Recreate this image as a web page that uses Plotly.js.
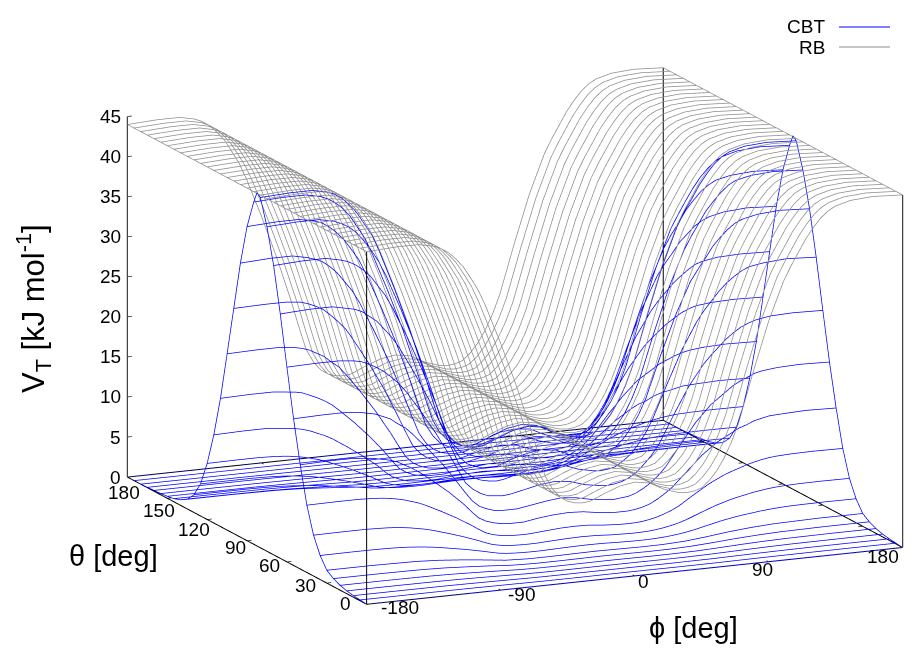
<!DOCTYPE html>
<html><head><meta charset="utf-8"><script src="https://cdn.plot.ly/plotly-3.0.1.min.js"></script>
<style>html,body{margin:0;padding:0;background:#fff}#c{width:915px;height:655px}</style></head>
<body><div id="c"></div><script>
const phi=[-180,-160,-145,-135,-130,-125,-120,-115,-110,-105,-100,-90,-80,-70,-65,-60,-55,-50,-45,-40,-35,-30,-20,-10,0,10,20,30,35,40,45,50,55,60,65,70,80,90,100,105,110,115,120,125,130,135,145,160,180];
const phiCoarse=[-180,-150,-120,-105,-90,-75,-60,-45,-30,-15,0,15,30,45,60,75,90,105,120,150,180];
const theta=[0,5,10,15,20,25,30,35,40,45,50,55,60,65,70,75,80,85,90,95,100,105,110,115,120,125,130,135,140,145,150,155,160,165,170,175,180];
const arcTheta=[0,5,10,15,20,25,30,35,40,45,50,55,60,65,70,75,80,82.5,85,90,95,100,105,110,115,120,125,130,135,140,145,150,155,160,165,170,175,180];
const arcZ=[0,.1,.2,.35,.6,1,1.6,3,5.1,8.4,13,18.3,24.3,30.5,36.1,40.5,43.7,44.1,42.7,39.2,34.2,28.1,22,16,11,7,4,2.2,1.2,.7,.4,.25,.15,.1,.05,0,0,0];
const rb=[44,44.2,44.2,43.8,43.4,42.8,41.9,40.8,39.3,37.7,35.6,30.8,25.6,19.8,16.6,13.6,11.9,10.8,10.2,9.9,9.8,9.9,10.7,11.4,11.7,11.4,10.4,9.8,9.7,9.8,10.1,10.9,12,13.5,15.4,17.8,24.1,30,34.8,36.6,38.2,39.8,41.1,42.2,43,43.5,44,44.2,44];
const cbt0=[0,0,0,0,0,0,0,0,0,0,0,0,0,0,0,0,0,0,0,0,0];
const cbt5=[.1,.1,.1,.09,.07,.05,.03,.02,.02,.03,.03,.03,.02,.02,.03,.05,.07,.08,.09,.1,.1];
const cbt10=[.2,.2,.19,.17,.14,.1,.06,.05,.05,.05,.05,.05,.04,.05,.06,.1,.14,.17,.19,.2,.2];
const cbt15=[.35,.35,.33,.3,.25,.18,.11,.08,.08,.09,.09,.09,.08,.08,.11,.17,.24,.29,.33,.35,.35];
const cbt20=[.6,.6,.57,.51,.42,.31,.19,.14,.14,.15,.16,.15,.13,.14,.18,.29,.41,.5,.56,.6,.6];
const cbt25=[1,1,.95,.86,.7,.52,.31,.23,.23,.25,.27,.25,.22,.23,.31,.48,.68,.83,.93,1,1];
const cbt30=[1.6,1.6,1.52,1.37,1.12,.82,.49,.37,.36,.4,.43,.4,.36,.37,.49,.76,1.09,1.33,1.49,1.6,1.6];
const cbt35=[3,3.02,3.02,2.99,2.96,2.92,2.86,2.78,2.68,2.57,2.43,2.1,1.75,1.35,1.13,.93,.81,.74,.7,.68,.67,.68,.73,.78,.8,.78,.71,.67,.66,.67,.69,.74,.82,.92,1.05,1.22,1.64,2.05,2.37,2.5,2.6,2.72,2.8,2.88,2.93,2.97,3,3.02,3];
const cbt40=[5.1,5.13,5.13,5.07,5.03,4.96,4.86,4.73,4.55,4.37,4.13,3.57,2.97,2.3,1.92,1.58,1.38,1.25,1.18,1.15,1.14,1.15,1.24,1.32,1.36,1.32,1.2,1.14,1.12,1.14,1.17,1.26,1.39,1.57,1.79,2.07,2.79,3.48,4.03,4.24,4.43,4.62,4.76,4.89,4.98,5.04,5.1,5.13,5.1];
const cbt45=[8.4,8.44,8.44,8.36,8.28,8.17,8,7.79,7.5,7.2,6.8,5.88,4.89,3.78,3.17,2.6,2.27,2.06,1.95,1.89,1.87,1.89,2.04,2.18,2.23,2.18,1.98,1.87,1.85,1.87,1.93,2.08,2.29,2.58,2.94,3.4,4.6,5.73,6.64,6.99,7.29,7.6,7.85,8.06,8.21,8.31,8.4,8.44,8.4];
const cbt50=[13,13.1,13.1,12.9,12.8,12.6,12.4,12.1,11.6,11.1,10.5,9.1,7.6,5.9,4.9,4,3.5,3.2,3,2.9,2.9,2.9,3.2,3.4,3.5,3.4,3.1,2.9,2.9,2.9,3,3.2,3.5,4,4.6,5.3,7.1,8.9,10.3,10.8,11.3,11.8,12.1,12.5,12.7,12.9,13,13.1,13];
const cbt55=[18.3,18.4,18.4,18.2,18,17.8,17.4,17,16.3,15.7,14.8,12.8,10.7,8.2,6.9,5.7,4.9,4.5,4.2,4.1,4.1,4.1,4.4,4.7,4.9,4.7,4.3,4.1,4,4.1,4.2,4.5,5,5.6,6.4,7.4,10,12.5,14.5,15.2,15.9,16.6,17.1,17.5,17.9,18.1,18.3,18.4,18.3];
const cbt60=[24.3,24.4,24.4,24.2,24,23.6,23.1,22.5,21.7,20.8,19.7,17,14.1,10.9,9.2,7.5,6.6,6,5.6,5.5,5.4,5.5,5.9,6.3,6.5,6.3,5.7,5.4,5.3,5.4,5.6,6,6.6,7.5,8.5,9.8,13.3,16.6,19.2,20.2,21.1,22,22.7,23.3,23.7,24,24.3,24.4,24.3];
const cbt65=[30.5,30.7,30.7,30.3,30.1,29.7,29,28.3,27.2,26.1,24.7,21.4,17.8,13.7,11.5,9.4,8.2,7.5,7.1,6.9,6.8,6.9,7.4,7.9,8.1,7.9,7.2,6.8,6.7,6.8,7,7.6,8.3,9.4,10.7,12.4,16.7,20.8,24.1,25.4,26.5,27.6,28.5,29.2,29.8,30.2,30.5,30.7,30.5];
const cbt70=[36.1,36.3,36.3,35.9,35.6,35.1,34.4,33.5,32.2,30.9,29.2,25.3,21,16.2,13.6,11.2,9.7,8.8,8.4,8.1,8.1,8.1,8.8,9.3,9.6,9.3,8.5,8.1,7.9,8.1,8.3,9,9.9,11.1,12.6,14.6,19.8,24.6,28.6,30,31.3,32.7,33.7,34.6,35.3,35.7,36.1,36.3,36.1];
const cbt75=[40.5,40.7,40.7,40.3,39.9,39.4,38.6,37.5,36.2,34.7,32.8,28.4,23.6,18.2,15.3,12.5,10.9,9.9,9.4,9.1,9,9.1,9.8,10.5,10.8,10.5,9.6,9,8.9,9,9.3,10,11.1,12.4,14.2,16.4,22.2,27.6,32,33.7,35.2,36.7,37.8,38.8,39.6,40.1,40.5,40.7,40.5];
const cbt80=[43.7,43.9,43.9,43.5,43.1,42.5,41.6,40.5,39,37.5,35.4,30.6,25.4,19.7,16.5,13.5,11.8,10.7,10.1,9.8,9.7,9.8,10.6,11.3,11.6,11.3,10.3,9.7,9.6,9.7,10.1,10.8,11.9,13.4,15.3,17.7,23.9,29.8,34.6,36.4,37.9,39.5,40.8,41.9,42.7,43.2,43.7,43.9,43.7];
const cbt85=[42.7,42.9,42.9,42.5,42.1,41.5,40.7,39.6,38.1,36.6,34.5,29.9,24.9,19.2,16.1,13.2,11.5,10.5,9.9,9.6,9.5,9.6,10.4,11.1,11.4,11.1,10.1,9.5,9.4,9.5,9.8,10.6,11.7,13.1,14.9,17.3,23.4,29.1,33.8,35.5,37.1,38.6,39.9,40.9,41.7,42.2,42.7,42.9,42.7];
const cbt90=[39.2,39.4,39.4,39,38.7,38.1,37.3,36.3,35,33.6,31.7,27.4,22.8,17.6,14.8,12.1,10.6,9.6,9.1,8.8,8.7,8.8,9.5,10.2,10.4,10.2,9.3,8.7,8.6,8.7,9,9.7,10.7,12,13.7,15.9,21.5,26.7,31,32.6,34,35.5,36.6,37.6,38.3,38.8,39.2,39.4,39.2];
const cbt95=[34.2,34.4,34.4,34,33.7,33.3,32.6,31.7,30.5,29.3,27.7,23.9,19.9,15.4,12.9,10.6,9.2,8.4,7.9,7.7,7.6,7.7,8.3,8.9,9.1,8.9,8.1,7.6,7.5,7.6,7.9,8.5,9.3,10.5,12,13.9,18.7,23.3,27.1,28.5,29.7,31,31.9,32.8,33.4,33.8,34.2,34.4,34.2];
const cbt100=[28.1,28.2,28.2,28,27.7,27.3,26.8,26,25.1,24.1,22.7,19.7,16.4,12.6,10.6,8.7,7.6,6.9,6.5,6.3,6.3,6.3,6.8,7.3,7.5,7.3,6.6,6.3,6.2,6.3,6.5,7,7.7,8.6,9.8,11.4,15.4,19.2,22.2,23.4,24.4,25.4,26.2,26.9,27.5,27.8,28.1,28.2,28.1];
const cbt105=[22,22.1,22.1,21.9,21.7,21.4,20.9,20.4,19.6,18.9,17.8,15.4,12.8,9.9,8.3,6.8,5.9,5.4,5.1,5,4.9,5,5.3,5.7,5.9,5.7,5.2,4.9,4.8,4.9,5.1,5.5,6,6.8,7.7,8.9,12.1,15,17.4,18.3,19.1,19.9,20.5,21.1,21.5,21.8,22,22.1,22];
const cbt110=[16,16.1,16.1,15.9,15.8,15.6,15.2,14.8,14.3,13.7,12.9,11.2,9.3,7.2,6,4.9,4.3,3.9,3.7,3.6,3.6,3.6,3.9,4.1,4.3,4.1,3.8,3.6,3.5,3.6,3.7,4,4.4,4.9,5.6,6.5,8.8,10.9,12.7,13.3,13.9,14.5,14.9,15.3,15.6,15.8,16,16.1,16];
const cbt115=[11,11.1,11.1,10.9,10.8,10.7,10.5,10.2,9.8,9.4,8.9,7.7,6.4,5,4.1,3.4,3,2.7,2.6,2.5,2.5,2.5,2.7,2.8,2.9,2.8,2.6,2.5,2.4,2.5,2.5,2.7,3,3.4,3.9,4.5,6,7.5,8.7,9.2,9.5,10,10.3,10.5,10.7,10.9,11,11.1,11];
const cbt120=[7,7.04,7.04,6.97,6.9,6.81,6.66,6.49,6.25,6,5.66,4.9,4.07,3.15,2.64,2.16,1.89,1.72,1.62,1.58,1.56,1.58,1.7,1.81,1.86,1.81,1.65,1.56,1.54,1.56,1.61,1.74,1.91,2.15,2.45,2.84,3.84,4.77,5.54,5.82,6.08,6.34,6.54,6.71,6.84,6.92,7,7.04,7];
const cbt125=[4,4.02,4.02,3.98,3.94,3.89,3.81,3.71,3.57,3.43,3.24,2.8,2.33,1.8,1.51,1.24,1.08,.98,.93,.9,.89,.9,.97,1.04,1.06,1.04,.94,.89,.88,.89,.92,.99,1.09,1.23,1.4,1.62,2.19,2.73,3.16,3.33,3.47,3.62,3.74,3.84,3.91,3.96,4,4.02,4];
const cbt130=[2.2,2.21,2.21,2.19,2.17,2.14,2.09,2.04,1.96,1.89,1.78,1.54,1.28,.99,.83,.68,.59,.54,.51,.5,.49,.5,.53,.57,.59,.57,.52,.49,.48,.49,.51,.55,.6,.68,.77,.89,1.21,1.5,1.74,1.83,1.91,1.99,2.05,2.11,2.15,2.18,2.2,2.21,2.2];
const cbt135=[1.2,1.2,1.14,1.03,.84,.62,.37,.28,.27,.3,.32,.3,.27,.28,.37,.57,.82,1,1.12,1.2,1.2];
const cbt140=[.7,.7,.67,.6,.49,.36,.22,.16,.16,.18,.19,.18,.16,.16,.21,.33,.48,.58,.65,.7,.7];
const cbt145=[.4,.4,.38,.34,.28,.21,.12,.09,.09,.1,.11,.1,.09,.09,.12,.19,.27,.33,.37,.4,.4];
const cbt150=[.25,.25,.24,.21,.18,.13,.08,.06,.06,.06,.07,.06,.06,.06,.08,.12,.17,.21,.23,.25,.25];
const cbt155=[.15,.15,.14,.13,.11,.08,.05,.03,.03,.04,.04,.04,.03,.03,.05,.07,.1,.12,.14,.15,.15];
const cbt160=[.1,.1,.1,.09,.07,.05,.03,.02,.02,.03,.03,.03,.02,.02,.03,.05,.07,.08,.09,.1,.1];
const cbt165=[.05,.05,.05,.04,.04,.03,.02,.01,.01,.01,.01,.01,.01,.01,.02,.02,.03,.04,.05,.05,.05];
const cbt170=[0,0,0,0,0,0,0,0,0,0,0,0,0,0,0,0,0,0,0,0,0];
const cbt175=[0,0,0,0,0,0,0,0,0,0,0,0,0,0,0,0,0,0,0,0,0];
const cbt180=[0,0,0,0,0,0,0,0,0,0,0,0,0,0,0,0,0,0,0,0,0];
const cbtRows=[cbt0,cbt5,cbt10,cbt15,cbt20,cbt25,cbt30,cbt35,cbt40,cbt45,cbt50,cbt55,cbt60,cbt65,cbt70,cbt75,cbt80,cbt85,cbt90,cbt95,cbt100,cbt105,cbt110,cbt115,cbt120,cbt125,cbt130,cbt135,cbt140,cbt145,cbt150,cbt155,cbt160,cbt165,cbt170,cbt175,cbt180];
const zTicks=[0,5,10,15,20,25,30,35,40,45];
const thetaTicks=[0,30,60,90,120,150,180];
const phiTicks=[-180,-90,0,90,180];
const thetaShift=[[-21,-1],[-21,2],[-17,4],[-12,7],[-13,10],[-8,12],[-3,15]];
const phiShift=[[33,3],[21,4],[9,6],[-6,8],[-20,9]];
const L=(x,y,z,color,width)=>({type:'scatter3d',mode:'lines',x,y,z,line:{color,width},hoverinfo:'skip',showlegend:false,connectgaps:false});
const GR='#8c8c8c',BL='#0000ff';
const traces=[];
theta.forEach(t=>traces.push(L(phi,phi.map(_=>t),rb,GR,1.5)));
theta.forEach((t,i)=>{const r=cbtRows[i],p=r.length===phi.length?phi:phiCoarse;traces.push(L(p,p.map(_=>t),r,BL,1.5));});
[-180,180].forEach(p=>traces.push(L(arcTheta.map(_=>p),arcTheta,arcZ,BL,1.5)));
[-180,180].forEach(p=>traces.push(L([p,p],[0,180],[rb[0],rb[0]],GR,1.5)));
traces.push(L([-180,180,180,-180,-180],[0,0,180,180,0],[0,0,0,0,0],'#000',2));
traces.push(L([-180,-180,null,180,180],[0,0,null,180,180],[0,44,null,0,44],'#000',2));
traces.push(L([-180,-180,null,180,180],[180,180,null,0,0],[0,45,null,0,44],'#444',2.5));
const tx=[],ty=[],tz=[];
zTicks.forEach(v=>{tx.push(-180,-177,null);ty.push(180,180,null);tz.push(v,v,null);});
thetaTicks.forEach(t=>{tx.push(-180,-177,null,180,177,null);ty.push(t,t,null,t,t,null);tz.push(0,0,null,0,0,null);});
phiTicks.forEach(p=>{tx.push(p,p,null,p,p,null);ty.push(0,1.5,null,180,178.5,null);tz.push(0,0,null,0,0,null);});
traces.push(L(tx,ty,tz,'#222',1.5));
const F='"Liberation Sans",Arial,sans-serif';
const s={size:19,color:'#000',family:F};
const ann=[];
zTicks.forEach(v=>ann.push({x:-180,y:180,z:v,text:String(v),showarrow:false,xanchor:'right',yanchor:'middle',xshift:-4,font:s}));
thetaTicks.forEach((t,i)=>ann.push({x:-180,y:t,z:0,text:String(t),showarrow:false,xanchor:'center',yanchor:'middle',xshift:thetaShift[i][0],yshift:-thetaShift[i][1],font:s}));
phiTicks.forEach((p,i)=>ann.push({x:p,y:0,z:0,text:String(p),showarrow:false,xanchor:'center',yanchor:'middle',xshift:phiShift[i][0],yshift:-phiShift[i][1],font:s}));
const big={size:29,color:'#000',family:F};
const P=(x,y,o)=>Object.assign({xref:'paper',yref:'paper',x:x/915,y:1-y/655,showarrow:false,xanchor:'center',yanchor:'middle'},o);
const k=1.817;
const layout={width:915,height:655,margin:{l:0,r:0,t:0,b:0},paper_bgcolor:'#fff',showlegend:false,
scene:{domain:{x:[.1257,1],y:[0,.9863]},aspectmode:'manual',aspectratio:{x:k,y:k,z:.6325*k},
camera:{projection:{type:'orthographic'},eye:{x:-.396*1.8,y:-.887*1.8,z:.2373*1.8},up:{x:0,y:0,z:1},center:{x:0,y:0,z:0}},
xaxis:{visible:false,range:[-180,180]},yaxis:{visible:false,range:[0,180]},zaxis:{visible:false,range:[0,45]},annotations:ann},
annotations:[
P(113,556,{text:'θ [deg]',font:big}),
P(693,628,{text:'ϕ [deg]',font:big}),
P(33,309,{text:'V<sub>T</sub> [kJ mol<sup>-1</sup>]',textangle:-90,font:{size:31,color:'#000',family:F}}),
P(827,27,{text:'CBT',xanchor:'right',font:s}),
P(827,47,{text:'RB',xanchor:'right',font:s})],
shapes:[
{type:'line',xref:'paper',yref:'paper',x0:839/915,x1:890/915,y0:1-27/655,y1:1-27/655,line:{color:BL,width:1}},
{type:'line',xref:'paper',yref:'paper',x0:839/915,x1:890/915,y0:1-47/655,y1:1-47/655,line:{color:GR,width:1}}]};
Plotly.newPlot('c',traces,layout,{displayModeBar:false});
</script></body></html>
